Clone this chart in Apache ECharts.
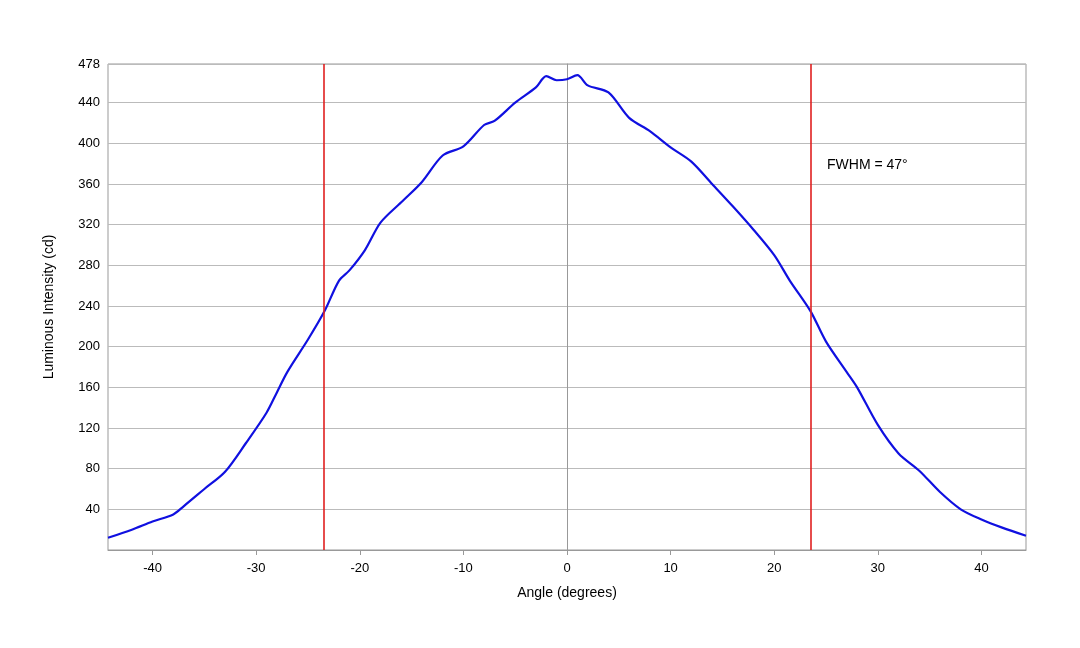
<!DOCTYPE html>
<html><head><meta charset="utf-8">
<script src="https://cdn.jsdelivr.net/npm/echarts@6/dist/echarts.min.js"></script>
<style>html,body{margin:0;background:#fff}#c{width:1080px;height:648px}</style>
</head><body><div id="c"></div>
<script>
const angles = [-44.3,-42,-40,-38,-37,-35,-33,-31,-29,-28,-27,-25,-23.4,-22,-21,-19.5,-18,-16,-14,-12,-10,-8,-7,-5,-3,-2,-1,0,1,2,4,6,8,10,12,14,16,18,20,21.5,23.5,25,27,28,30,32,34,36,38,40,42,44.3];
const intensity = [12,20,28,35,43,60,77,105,135,155,175,207,235,265,275,295,322,342,362,388,397,418,422,440,455,466,462,463,467,457,450,425,412,396,382,360,338,315,290,265,235,205,175,160,123,95,78,57,40,30,22,14];
const fwhmLines = [-23.5, 23.5];
const xTicks = [-40,-30,-20,-10,0,10,20,30,40];
const chart = echarts.init(document.getElementById('c'));
const font = 'Liberation Sans, Arial, sans-serif';
chart.setOption({
  animation:false,
  grid:{left:108,right:54,top:64,bottom:98,show:true,borderColor:'#999',borderWidth:1},
  xAxis:{type:'value',min:-44.3,max:44.3,name:'Angle (degrees)',nameLocation:'middle',nameGap:36,
    nameTextStyle:{color:'#000',fontSize:14,fontFamily:font},
    axisLine:{lineStyle:{color:'#999'}},splitLine:{show:false},
    axisTick:{show:true,customValues:xTicks,lineStyle:{color:'#999'}},
    axisLabel:{customValues:xTicks,color:'#000',fontSize:13,fontFamily:font,margin:12}},
  yAxis:{type:'value',min:0,max:478,interval:40,name:'Luminous Intensity (cd)',nameLocation:'middle',nameGap:52,
    nameTextStyle:{color:'#000',fontSize:14,fontFamily:font},
    axisLine:{show:true,lineStyle:{color:'#999'}},axisTick:{show:false},
    splitLine:{lineStyle:{color:'#bbb'}},
    axisLabel:{color:'#000',fontSize:13,fontFamily:font,formatter:v=>v===0?'':v}},
  series:[{type:'line',data:angles.map((a,i)=>[a,intensity[i]]),smooth:0.3,showSymbol:false,
    lineStyle:{color:'#1010e0',width:2.2},
    markLine:{silent:true,symbol:'none',label:{show:false},lineStyle:{color:'#e02020',width:1.6,type:'solid'},
      data:fwhmLines.map(x=>({xAxis:x}))}}],
  graphic:[{type:'text',left:827,top:158,style:{text:'FWHM = 47°',fill:'#000',fontSize:14,fontFamily:font}}]
});
</script></body></html>
